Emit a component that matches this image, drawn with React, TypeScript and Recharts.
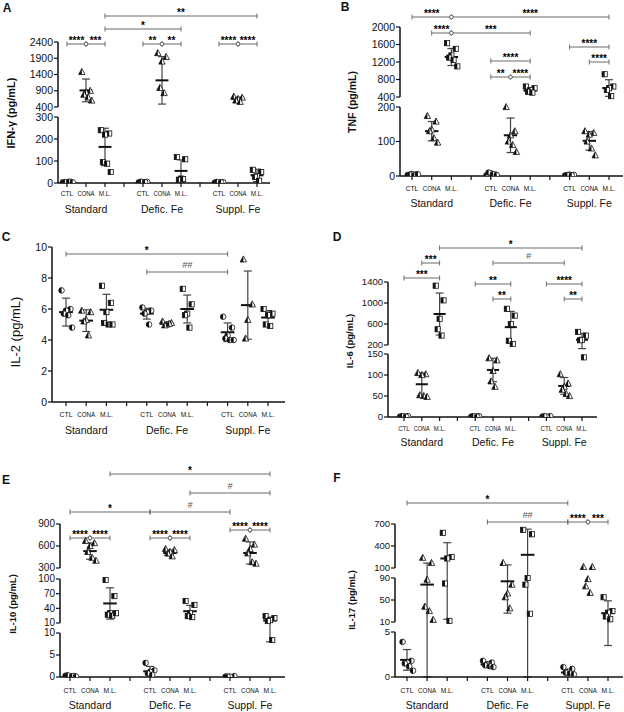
import React from "react";
import { ReferenceLine, Scatter, ScatterChart, XAxis, YAxis } from "recharts";

const groups = ["Standard", "Defic. Fe", "Suppl. Fe"];
const treatments = ["CTL", "CONA", "M.L."];
const slots = [1, 2, 3, 4, 5, 6, 7, 8, 9, 10, 11];

// order of every list: Standard CTL/CONA/M.L., Defic. Fe CTL/CONA/M.L., Suppl. Fe CTL/CONA/M.L.
const ifnPoints = [
  [3, 5, 2, 4, 6, 3],
  [1480, 900, 850, 780, 700, 600],
  [240, 225, 220, 95, 88, 50],
  [3, 5, 2, 6, 4],
  [2060, 1940, 1800, 990, 830],
  [118, 108, 20, 15, 18],
  [2, 4, 3, 5, 3],
  [720, 690, 650, 600, 560],
  [60, 50, 30, 28, 10],
];
const ifnMean = [4, 910, 164, 4, 1220, 55, 3, 645, 35];
const ifnSd = [2, 350, 85, 2, 730, 50, 1, 60, 28];

const tnfPoints = [
  [3, 5, 6, 4, 2, 5],
  [174, 158, 135, 130, 110, 97],
  [1630, 1500, 1350, 1300, 1250, 1100],
  [2, 4, 8, 10, 5, 3],
  [200, 130, 118, 100, 90, 70],
  [640, 600, 560, 520, 500],
  [2, 3, 4, 3, 2],
  [130, 125, 120, 100, 80, 60],
  [920, 640, 600, 560, 420],
];
const tnfMean = [4, 130, 1314, 5, 118, 545, 3, 102, 605];
const tnfSd = [2, 28, 195, 3, 50, 55, 1, 27, 190];

const il2Points = [
  [7.2, 6.0, 5.9, 5.7, 5.6, 4.8],
  [5.9, 5.8, 5.3, 5.2, 4.3],
  [7.5, 6.4, 5.8, 5.1, 5.0, 5.0],
  [6.1, 5.9, 5.8, 5.7, 5.0],
  [5.2, 5.1, 5.0, 4.95, 5.05],
  [7.3, 6.3, 5.7, 5.6, 4.8],
  [5.5, 4.8, 4.3, 4.1, 4.0, 4.0],
  [9.2, 6.3, 5.3, 4.1],
  [6.0, 5.7, 5.6, 5.0, 4.9],
];
const il2Mean = [5.8, 5.25, 5.95, 5.7, 5.05, 6.0, 4.5, 6.25, 5.45];
const il2Sd = [0.9, 0.7, 1.0, 0.35, 0.1, 0.9, 0.6, 2.2, 0.45];

const il6Points = [
  [1, 2, 1, 2, 1],
  [105, 102, 100, 52, 50, 48],
  [1330, 1050, 700, 500, 380],
  [1, 2, 1, 2, 1],
  [140, 135, 110, 85, 72],
  [890, 760, 600, 280, 220],
  [1, 2, 1, 2],
  [102, 80, 72, 65, 55, 50],
  [450, 380, 300, 290, 142],
];
const il6Mean = [1.4, 78, 790, 1.4, 112, 540, 1.5, 74, 300];
const il6Sd = [0.5, 27, 400, 0.5, 28, 300, 0.5, 20, 120];

const il10Points = [
  [0.3, 0.2, 0.1, 0.4, 0.2, 0.1],
  [670, 640, 600, 520, 440, 400],
  [98, 65, 30, 27, 25, 30],
  [3.2, 1.5, 1.2, 0.8, 0.5],
  [560, 545, 520, 500, 460],
  [55, 47, 30, 24, 22],
  [0.1, 0.2, 0.1, 0.1],
  [700, 620, 560, 500, 380, 360],
  [24, 20, 16, 14, 8.4],
];
const il10Mean = [0.2, 530, 50, 1.3, 505, 34, 0.1, 505, 15];
const il10Sd = [0.1, 110, 32, 1.1, 40, 12, 0.05, 150, 7];

const il17Points = [
  [3.9, 1.8, 1.6, 1.5, 1.2, 0.7],
  [240, 170, 87, 38, 30, 14],
  [580, 250, 230, 80, 12],
  [1.8, 1.6, 1.4, 1.3, 1.2, 1.1],
  [170, 78, 62, 55, 35],
  [620, 560, 90, 78, 25],
  [1.1, 0.9, 0.6, 0.5, 0.4, 0.3],
  [115, 115, 88, 75, 63],
  [55, 30, 27, 20, 15],
];
const il17Mean = [1.9, 78, 230, 1.4, 84, 280, 0.5, null, 26];
const il17Sd = [1.15, 90, 215, 0.3, 58, 350, 0.3, null, 22.5];

// [from slot, to slot, label, row]
type Sig = [number, number, string, number];
const ifnSig: Sig[] = [
  [1, 2, "****", 0], [2, 3, "***", 0], [5, 6, "**", 0], [6, 7, "**", 0],
  [9, 10, "****", 0], [10, 11, "****", 0], [3, 7, "*", 1], [3, 11, "**", 2],
];
const tnfSig: Sig[] = [
  [1, 3, "****", 0], [3, 11, "****", 0], [2, 3, "****", 1], [3, 7, "***", 1],
  [5, 7, "****", 2], [5, 6, "**", 3], [6, 7, "****", 3], [9, 11, "****", 4], [10, 11, "****", 5],
];
const il2Sig: Sig[] = [[1, 9, "*", 0], [5, 9, "##", 1]];
const il6Sig: Sig[] = [
  [3, 11, "*", 0], [6, 10, "#", 1], [2, 3, "***", 1], [1, 3, "***", 2],
  [5, 7, "**", 3], [6, 7, "**", 4], [9, 11, "****", 3], [10, 11, "**", 4],
];
const il10Sig: Sig[] = [
  [3, 11, "*", 0], [7, 11, "#", 1], [1, 5, "*", 2], [5, 9, "#", 2],
  [1, 2, "****", 3], [2, 3, "****", 3], [5, 6, "****", 3], [6, 7, "****", 3],
  [9, 10, "****", 4], [10, 11, "****", 4],
];
const il17Sig: Sig[] = [[1, 9, "*", 0], [5, 9, "##", 1], [9, 10, "****", 1], [10, 11, "***", 1]];

const font = "'Liberation Sans', Arial, Helvetica, sans-serif";
const ink = "#111";
const jitter = [-0.22, 0.22, 0, -0.11, 0.11, 0.3];
const catLen = [13, 18, 13];

type Seg = { lo: number; hi: number; d0: number; d1: number; ticks: number[] };
type Cfg = {
  box: [number, number, number, number];
  axisX: number; baseY: number; endX: number; pos1X: number; unit: number;
  catOff: number; grpOff: number; tickFont: number;
  segs: Seg[]; rows: number[];
  points: number[][]; mean: (number | null)[]; sd: (number | null)[]; sig: Sig[];
};

function segD(v: number, s: Seg) {
  return s.d0 + ((v - s.lo) / (s.hi - s.lo)) * (s.d1 - s.d0);
}
function toD(v: number, segs: Seg[]) {
  for (let i = 0; i < segs.length; i++) {
    const s = segs[i];
    if (v <= s.hi) {
      if (v >= s.lo || i === 0) return Math.max(0, segD(v, s));
      const p = segs[i - 1];
      return p.d1 + ((v - p.hi) / (s.lo - p.hi)) * (s.d0 - p.d1);
    }
  }
  return segD(v, segs[segs.length - 1]);
}

function Circle(p: any) {
  const { cx, cy } = p;
  const r = 2.8;
  return (
    <g>
      <circle cx={cx} cy={cy} r={r} fill="#fff" stroke={ink} strokeWidth={0.8} />
      <path d={`M${cx},${cy - r}A${r},${r} 0 0 0 ${cx},${cy + r}Z`} fill={ink} />
    </g>
  );
}
function Tri(p: any) {
  const { cx, cy } = p;
  return (
    <g>
      <polygon points={`${cx},${cy - 3.5} ${cx - 3.2},${cy + 2.6} ${cx + 3.2},${cy + 2.6}`} fill="#fff" stroke={ink} strokeWidth={0.8} />
      <polygon points={`${cx},${cy - 3.5} ${cx - 3.2},${cy + 2.6} ${cx},${cy + 2.6}`} fill={ink} />
    </g>
  );
}
function Sq(p: any) {
  const { cx, cy } = p;
  return (
    <g>
      <rect x={cx - 2.6} y={cy - 2.6} width={5.2} height={5.2} fill="#fff" stroke={ink} strokeWidth={0.8} />
      <rect x={cx - 2.6} y={cy - 2.6} width={2.6} height={5.2} fill={ink} />
    </g>
  );
}
const markers = [Circle, Tri, Sq];

function SdShape(p: any) {
  const { x1, y1, x2, y2 } = p;
  return (
    <g stroke="#444" strokeWidth={1.2}>
      <line x1={x1} y1={y1} x2={x2} y2={y2} />
      <line x1={x1 - 4} x2={x1 + 4} y1={y1} y2={y1} />
      <line x1={x2 - 4} x2={x2 + 4} y1={y2} y2={y2} />
    </g>
  );
}

function sigShape(label: string, j1: boolean, j2: boolean) {
  return (p: any) => {
    const xa = Math.min(p.x1, p.x2);
    const xb = Math.max(p.x1, p.x2);
    const y = p.y1;
    const hash = label.includes("#");
    const c = "#6b6b6b";
    return (
      <g>
        <line x1={xa} x2={xb} y1={y} y2={y} stroke={c} strokeWidth={1} />
        <line x1={xa} x2={xa} y1={y - 2.5} y2={y + 2.5} stroke={c} strokeWidth={1} />
        <line x1={xb} x2={xb} y1={y - 2.5} y2={y + 2.5} stroke={c} strokeWidth={1} />
        {j1 && <circle cx={xa} cy={y} r={1.8} fill="#fff" stroke={c} />}
        {j2 && <circle cx={xb} cy={y} r={1.8} fill="#fff" stroke={c} />}
        <text
          x={(xa + xb) / 2}
          y={hash ? y - 4 : y - 0.5}
          textAnchor="middle"
          fontSize={hash ? 9 : 10}
          fontWeight={hash ? 400 : 700}
          fontStyle={hash ? "italic" : "normal"}
          fill={hash ? "#555" : "#000"}
          fontFamily={font}
        >
          {label}
        </text>
      </g>
    );
  };
}

function Panel({ c }: { c: Cfg }) {
  const [left, top, w, h] = c.box;
  const plotTop = 2;
  const dTop = c.baseY - top - plotTop;
  const xMin = 1 - (c.pos1X - c.axisX) / c.unit;
  const xMax = 1 + (c.endX - c.pos1X) / c.unit;
  const slotOf = (i: number) => Math.floor(i / 3) * 4 + (i % 3) + 1;
  const squeeze = Math.min(1, c.unit / 20);
  const catFont = 8 * Math.min(1, c.unit / 19.5);

  const series = treatments.map((_, t) =>
    c.points.flatMap((vals, i) =>
      i % 3 !== t ? [] : vals.map((v, k) => ({ x: slotOf(i) + jitter[k % jitter.length], y: toD(v, c.segs) }))
    )
  );

  const yTicks: number[] = [];
  const tickLabel = new Map<number, string>();
  c.segs.forEach((s) =>
    s.ticks.forEach((t) => {
      const d = segD(t, s);
      yTicks.push(d);
      tickLabel.set(Math.round(d * 10), String(t));
    })
  );

  const localBase = c.baseY - top;
  const xTick = (p: any) => {
    const v = Math.round(p.payload.value);
    if (v % 4 === 0) return <g />;
    const g = Math.floor(v / 4);
    const t = (v % 4) - 1;
    return (
      <g fontFamily={font} fill={ink}>
        <text
          x={p.x}
          y={localBase + c.catOff}
          textAnchor="middle"
          fontSize={catFont}
          textLength={catLen[t] * squeeze}
          lengthAdjust="spacingAndGlyphs"
        >
          {treatments[t]}
        </text>
        {t === 1 && (
          <text x={p.x} y={localBase + c.grpOff} textAnchor="middle" fontSize={10.5}>
            {groups[g]}
          </text>
        )}
      </g>
    );
  };
  const yTick = (p: any) => (
    <text x={p.x} y={p.y} dy={c.tickFont * 0.34} textAnchor="end" fontSize={c.tickFont} fill={ink} fontFamily={font}>
      {tickLabel.get(Math.round(p.payload.value * 10))}
    </text>
  );

  const isStar = (s: string) => !s.includes("#");
  const junction = (sig: Sig, end: number) =>
    isStar(sig[2]) &&
    c.sig.some((o) => o !== sig && o[3] === sig[3] && isStar(o[2]) && (o[0] === end || o[1] === end));

  return (
    <div style={{ position: "absolute", left, top, width: w, height: h }}>
      <ScatterChart width={w} height={h} margin={{ top: plotTop, right: left + w - c.endX, bottom: 0, left: 0 }}>
        <XAxis
          type="number"
          dataKey="x"
          domain={[xMin, xMax]}
          ticks={slots}
          interval={0}
          allowDataOverflow
          height={h - localBase}
          axisLine={{ stroke: ink, strokeWidth: 1.5 }}
          tickLine={{ stroke: ink, strokeWidth: 1.2 }}
          tickSize={4}
          tick={xTick}
        />
        <YAxis
          type="number"
          dataKey="y"
          domain={[0, dTop]}
          ticks={yTicks}
          interval={0}
          allowDataOverflow
          width={c.axisX - left}
          axisLine={false}
          tickLine={{ stroke: ink, strokeWidth: 1.2 }}
          tickSize={4}
          tickMargin={1}
          tick={yTick}
        />
        {c.segs.map((s, i) => (
          <ReferenceLine
            key={"ax" + i}
            ifOverflow="visible"
            segment={[{ x: xMin, y: s.d0 }, { x: xMin, y: s.d1 }]}
            stroke={ink}
            strokeWidth={1.5}
          />
        ))}
        {c.mean.map((m, i) => {
          const sd = c.sd[i];
          if (m === null || sd === null) return null;
          const x = slotOf(i);
          return (
            <ReferenceLine
              key={"sd" + i}
              ifOverflow="visible"
              segment={[{ x, y: toD(m - sd, c.segs) }, { x, y: toD(m + sd, c.segs) }]}
              shape={SdShape}
            />
          );
        })}
        {c.mean.map((m, i) => {
          if (m === null) return null;
          const x = slotOf(i);
          const y = toD(m, c.segs);
          return (
            <ReferenceLine
              key={"mn" + i}
              ifOverflow="visible"
              segment={[{ x: x - 0.34, y }, { x: x + 0.34, y }]}
              stroke={ink}
              strokeWidth={2}
            />
          );
        })}
        {c.sig.map((s, i) => (
          <ReferenceLine
            key={"sg" + i}
            ifOverflow="visible"
            segment={[{ x: s[0], y: c.rows[s[3]] }, { x: s[1], y: c.rows[s[3]] }]}
            shape={sigShape(s[2], junction(s, s[0]), junction(s, s[1]))}
          />
        ))}
        {series.map((d, t) => (
          <Scatter key={t} data={d} shape={markers[t]} isAnimationActive={false} />
        ))}
      </ScatterChart>
    </div>
  );
}

const panels: Cfg[] = [
  {
    box: [0, 0, 310, 230], axisX: 58, baseY: 183, endX: 270, pos1X: 67, unit: 19, catOff: 13, grpOff: 30, tickFont: 10.5,
    segs: [
      { lo: 0, hi: 300, d0: 0, d1: 66, ticks: [0, 100, 200, 300] },
      { lo: 400, hi: 2400, d0: 76, d1: 141, ticks: [400, 900, 1400, 1900, 2400] },
    ],
    rows: [139, 154, 167], points: ifnPoints, mean: ifnMean, sd: ifnSd, sig: ifnSig,
  },
  {
    box: [310, 0, 314, 230], axisX: 400, baseY: 176, endX: 623, pos1X: 412, unit: 19.7, catOff: 15, grpOff: 31, tickFont: 10.5,
    segs: [
      { lo: 0, hi: 200, d0: 0, d1: 69, ticks: [0, 100, 200] },
      { lo: 400, hi: 2000, d0: 79, d1: 149, ticks: [400, 800, 1200, 1600, 2000] },
    ],
    rows: [159, 143, 115, 99, 129, 114], points: tnfPoints, mean: tnfMean, sd: tnfSd, sig: tnfSig,
  },
  {
    box: [0, 232, 310, 230], axisX: 52, baseY: 402, endX: 285, pos1X: 66, unit: 20.2, catOff: 15, grpOff: 32, tickFont: 10.5,
    segs: [{ lo: 0, hi: 10, d0: 0, d1: 155, ticks: [0, 2, 4, 6, 8, 10] }],
    rows: [148, 130], points: il2Points, mean: il2Mean, sd: il2Sd, sig: il2Sig,
  },
  {
    box: [310, 232, 314, 230], axisX: 388, baseY: 417, endX: 597, pos1X: 404, unit: 17.8, catOff: 14, grpOff: 29, tickFont: 9.5,
    segs: [
      { lo: 0, hi: 150, d0: 0, d1: 63, ticks: [0, 50, 100, 150] },
      { lo: 200, hi: 1400, d0: 72, d1: 135, ticks: [200, 600, 1000, 1400] },
    ],
    rows: [169, 154, 139, 133, 118], points: il6Points, mean: il6Mean, sd: il6Sd, sig: il6Sig,
  },
  {
    box: [0, 462, 310, 250], axisX: 60, baseY: 677, endX: 285, pos1X: 70, unit: 20, catOff: 16, grpOff: 32, tickFont: 10,
    segs: [
      { lo: 0, hi: 10, d0: 0, d1: 44, ticks: [0, 5, 10] },
      { lo: 10, hi: 100, d0: 54, d1: 98, ticks: [10, 40, 70, 100] },
      { lo: 300, hi: 900, d0: 109, d1: 153, ticks: [300, 600, 900] },
    ],
    rows: [203, 184, 165, 139, 147], points: il10Points, mean: il10Mean, sd: il10Sd, sig: il10Sig,
  },
  {
    box: [310, 462, 314, 250], axisX: 395, baseY: 677, endX: 623, pos1X: 407, unit: 20.1, catOff: 16, grpOff: 32, tickFont: 9.5,
    segs: [
      { lo: 0, hi: 5, d0: 0, d1: 45, ticks: [0, 5] },
      { lo: 10, hi: 90, d0: 55, d1: 99, ticks: [10, 50, 90] },
      { lo: 100, hi: 700, d0: 109, d1: 153, ticks: [100, 400, 700] },
    ],
    rows: [174, 155], points: il17Points, mean: il17Mean, sd: il17Sd, sig: il17Sig,
  },
];

const letters = [
  { t: "A", x: 7, y: 8 }, { t: "B", x: 345, y: 7 }, { t: "C", x: 6, y: 237 },
  { t: "D", x: 337, y: 237 }, { t: "E", x: 6, y: 480 }, { t: "F", x: 337, y: 478 },
];
const yLabels = [
  { t: "IFN-γ (pg/mL)", x: 11, y: 113, size: 11, weight: 700 },
  { t: "TNF (pg/mL)", x: 352, y: 102, size: 10.5, weight: 700 },
  { t: "IL-2 (pg/mL)", x: 15, y: 332, size: 13, weight: 400 },
  { t: "IL-6 (pg/mL)", x: 350, y: 341, size: 9.5, weight: 700 },
  { t: "IL-10 (pg/mL)", x: 13, y: 604, size: 9.5, weight: 700 },
  { t: "IL-17 (pg/mL)", x: 352, y: 600, size: 9.5, weight: 700 },
];

export default function App() {
  return (
    <div style={{ position: "absolute", left: 0, top: 0, width: 624, height: 712, background: "#fff", fontFamily: font, color: ink }}>
      {panels.map((c, i) => (
        <Panel key={i} c={c} />
      ))}
      {letters.map((l) => (
        <div key={l.t} style={{ position: "absolute", left: l.x, top: l.y, transform: "translate(-50%,-50%)", fontSize: 12, fontWeight: 700, lineHeight: 1 }}>
          {l.t}
        </div>
      ))}
      {yLabels.map((l) => (
        <div
          key={l.t}
          style={{
            position: "absolute", left: l.x, top: l.y, transform: "translate(-50%,-50%) rotate(-90deg)",
            fontSize: l.size, fontWeight: l.weight, lineHeight: 1, whiteSpace: "nowrap",
          }}
        >
          {l.t}
        </div>
      ))}
    </div>
  );
}
